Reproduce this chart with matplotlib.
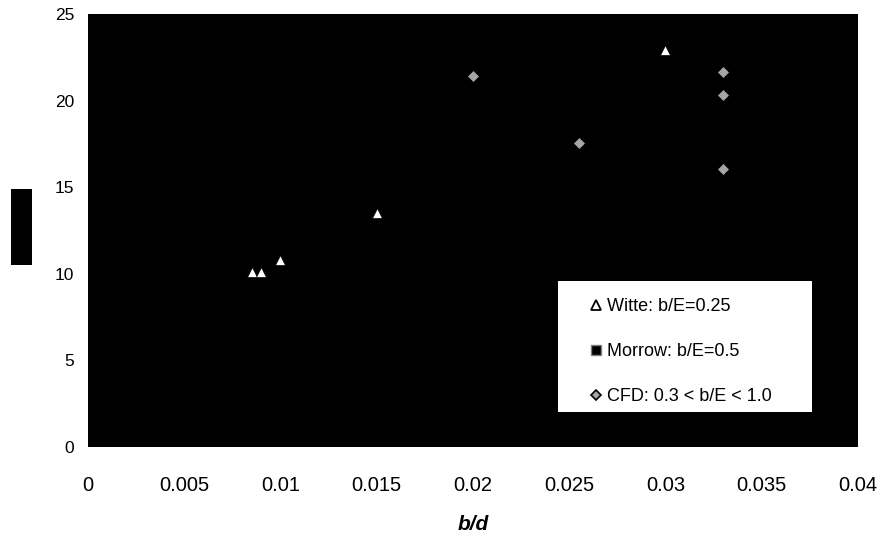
import matplotlib
matplotlib.use("Agg")
from matplotlib import pyplot as plt
from matplotlib.patches import Rectangle

plt.rcParams['font.family'] = ['Liberation Sans', 'DejaVu Sans']

# datos
witte_x = [0.0085, 0.0090, 0.0100, 0.0150, 0.0300]
witte_y = [10.1, 10.1, 10.8, 13.5, 22.9]

morrow_x = []
morrow_y = []

cfd_x = [0.0200, 0.0255, 0.0330, 0.0330, 0.0330]
cfd_y = [21.4, 17.55, 21.65, 20.3, 16.05]

xticks = [0, 0.005, 0.01, 0.015, 0.02, 0.025, 0.03, 0.035, 0.04]
xlabels = ['0', '0.005', '0.01', '0.015', '0.02', '0.025', '0.03', '0.035', '0.04']
yticks = [0, 5, 10, 15, 20, 25]

fig = plt.figure(figsize=(8.79, 5.45), dpi=100)
ax = fig.add_axes([0.1001, 0.1798, 0.876, 0.7945])
ax.set_facecolor('black')

ax.plot(witte_x, witte_y, linestyle='none', marker='^', markersize=6.5,
        markerfacecolor='white', markeredgecolor='black', markeredgewidth=0.5)
ax.plot(morrow_x, morrow_y, linestyle='none', marker='s', markersize=7,
        markerfacecolor='black', markeredgecolor='#808080', markeredgewidth=1)
ax.plot(cfd_x, cfd_y, linestyle='none', marker='D', markersize=5,
        markerfacecolor='#a6a6a6', markeredgecolor='#a6a6a6', markeredgewidth=0.5)

ax.set_xlim(0, 0.04)
ax.set_ylim(0, 25)
ax.set_xticks(xticks)
ax.set_xticklabels(xlabels)
ax.set_yticks(yticks)
ax.tick_params(axis='both', length=0)
ax.tick_params(axis='x', pad=21, labelsize=14.5)
ax.tick_params(axis='y', pad=10, labelsize=12.5)
for s in ax.spines.values():
    s.set_visible(False)

ax.set_xlabel('b/d', fontsize=15, fontweight='bold', fontstyle='italic', labelpad=14)

# etiqueta del eje y tapada por un recuadro negro
fig.patches.append(Rectangle((11 / 879, 1 - 265 / 545), 21 / 879, 76 / 545,
                             transform=fig.transFigure, facecolor='black',
                             edgecolor='none'))

# recuadro blanco de la leyenda
ax.add_patch(Rectangle((0.6099, 0.0808), 0.3303, 0.3025, transform=ax.transAxes,
                       facecolor='white', edgecolor='none', zorder=4))

leg_handles = [
    plt.Line2D([], [], linestyle='none', marker='^', markersize=7,
               markerfacecolor='white', markeredgecolor='black', markeredgewidth=1.3),
    plt.Line2D([], [], linestyle='none', marker='s', markersize=6.5,
               markerfacecolor='black', markeredgecolor='#808080', markeredgewidth=1),
    plt.Line2D([], [], linestyle='none', marker='D', markersize=5.5,
               markerfacecolor='#a6a6a6', markeredgecolor='black', markeredgewidth=1.2),
]
leg_labels = ['Witte: b/E=0.25', 'Morrow: b/E=0.5', 'CFD: 0.3 < b/E < 1.0']
leg = ax.legend(leg_handles, leg_labels, loc='upper left', bbox_to_anchor=(0.651, 0.343),
                borderaxespad=0, borderpad=0, frameon=False, fontsize=13,
                labelspacing=1.55, handlelength=0.8, handletextpad=0.21)
leg.set_zorder(5)

fig.savefig('out.png', dpi=100, facecolor='white')
